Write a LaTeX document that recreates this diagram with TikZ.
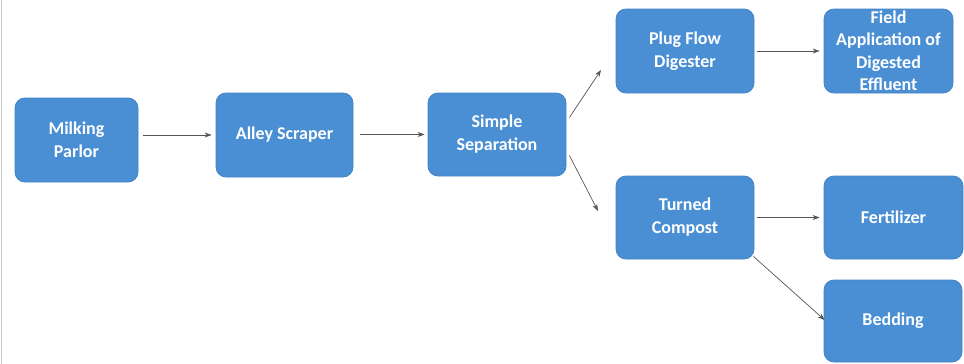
\documentclass[tikz,border=0pt]{standalone}
\usepackage{fontspec}
\setmainfont{Carlito}
\usetikzlibrary{arrows.meta}
\definecolor{boxblue}{RGB}{74,143,212}
\definecolor{boxedge}{RGB}{66,132,200}
\definecolor{linkgray}{RGB}{85,85,85}
\tikzset{
  procbox/.style={draw=boxedge, line width=0.8pt, fill=boxblue, rounded corners=10pt,
    text=white, font=\bfseries\fontsize{18}{23}\selectfont, align=center,
    minimum height=84pt, inner sep=2pt},
  flow/.style={draw=linkgray, line width=0.7pt, -{Stealth[length=7pt,width=5pt]}}
}
\begin{document}
\begin{tikzpicture}[x=1pt,y=-1pt]
  \useasboundingbox (0,0) rectangle (964,364);
  \fill[white] (0,0) rectangle (964,364);
  \draw[gray!45, line width=1.5pt] (1.5,0) -- (1.5,364);

  \node[procbox, minimum width=123pt] (mp) at (76.5,140) {Milking\\Parlor};
  \node[procbox, minimum width=137pt] (as) at (284.5,135) {Alley Scraper};
  \node[procbox, minimum width=138pt, minimum height=83pt] (ss) at (497,134.5) {Simple\\Separation};
  \node[procbox, minimum width=138pt] (pf) at (685,51) {Plug Flow\\Digester};
  \node[procbox, minimum width=129pt, minimum height=84pt, inner sep=0pt] (fa) at (888.5,51) {};
  \node[text=white, font=\bfseries\fontsize{18}{22.5}\selectfont, align=center] (fatext) at (fa.center) {Field\\Application of\\Digested\\Effluent};
  \node[procbox, minimum width=138pt, minimum height=83pt] (tc) at (685,217.5) {Turned\\Compost};
  \node[procbox, minimum width=139pt, minimum height=83pt] (fe) at (893.5,217.5) {Fertilizer};
  \node[procbox, minimum width=138pt, minimum height=82pt] (bd) at (893,321) {Bedding};

  \coordinate (e1) at (601,70);
  \coordinate (e2) at (598,211);

  \draw[flow] ([xshift=5pt]mp.east |- as.west) -- ([xshift=-4pt]as.west);
  \draw[flow] ([xshift=7pt]as.east |- ss.west) -- ([xshift=-3pt]ss.west);
  \draw[flow] ([xshift=3pt,yshift=17pt]ss.east) -- (e1);
  \draw[flow] ([xshift=3pt,yshift=-21pt]ss.east) -- (e2);
  \draw[flow] ([xshift=3pt]pf.east) -- ([xshift=-4pt]fa.west);
  \draw[flow] ([xshift=3pt]tc.east) -- ([xshift=-4pt]fe.west);
  \draw[flow] ([xshift=-1pt,yshift=3pt]tc.south east) -- ([xshift=1pt,yshift=1pt]bd.west);
\end{tikzpicture}
\end{document}
